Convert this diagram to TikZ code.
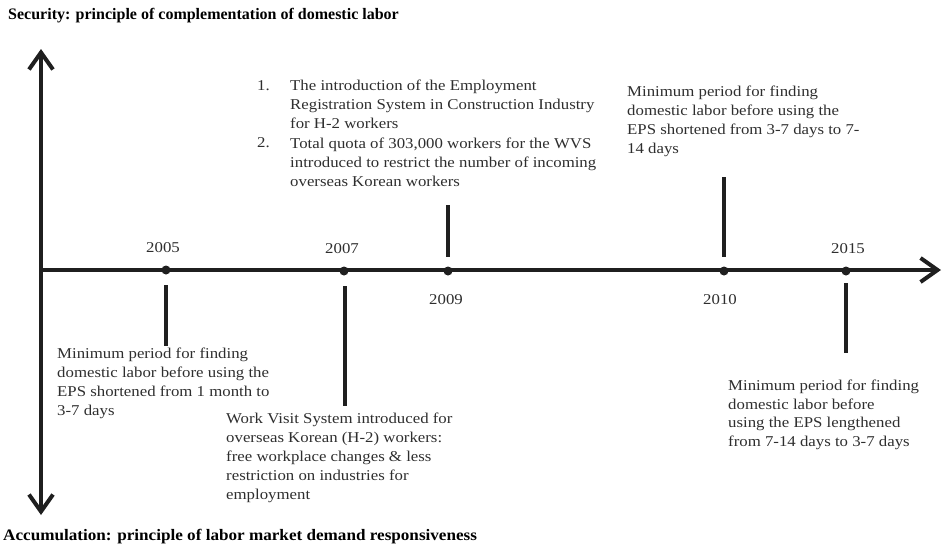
\documentclass[tikz,border=0pt]{standalone}
\usepackage{fontspec}
\setmainfont{Liberation Serif}[FakeStretch=1.12]
\newfontfamily\secfont{Liberation Serif}
\newfontfamily\accfont{Liberation Serif}[FakeStretch=1.07]
\usetikzlibrary{arrows.meta}

\definecolor{inkgray}{HTML}{2E2E2E}

\tikzset{
  axisline/.style={line width=4pt, draw=black!88},
  tick/.style={line width=4pt, draw=black!88},
  barb/.tip={Straight Barb[length=17pt, width=24pt, line width=4pt]},
  evdot/.style={circle, fill=black!88, inner sep=0pt, minimum size=9pt},
  yearlbl/.style={anchor=base, inner sep=0pt, text=inkgray, font=\fontsize{15}{18}\selectfont},
  note/.style={anchor=north west, inner sep=0pt, align=left, text=inkgray,
               font=\fontsize{15}{19}\selectfont},
  heading/.style={anchor=base west, inner sep=0pt, text=black},
}

\begin{document}
\begin{tikzpicture}[x=1pt, y=-1pt]
\useasboundingbox (0,0) rectangle (943,547);

% headings for the two principles
\node[heading, font=\secfont\fontsize{16}{19}\selectfont\bfseries] (sec) at (8,19)
  {Security: principle of complementation of domestic labor};
\node[heading, font=\accfont\fontsize{16}{19}\selectfont\bfseries] (acc) at (3,540)
  {Accumulation: principle of labor market demand responsiveness};

% axes
\coordinate (ytop) at (41,49);
\coordinate (ybot) at (41,515);
\coordinate (xorg) at (39,270);
\coordinate (xend) at (941,270);
\draw[axisline, {barb}-{barb}] (ybot) -- (ytop);
\draw[axisline, -{barb}] (xorg) -- (xend);

% events on the timeline
\node[evdot] (d05) at (166,270) {};
\node[evdot] (d07) at (344,271) {};
\node[evdot] (d09) at (448,271) {};
\node[evdot] (d10) at (724,271) {};
\node[evdot] (d15) at (846,271) {};

% year labels
\node[yearlbl] (y05) at (163,252) {2005};
\node[yearlbl] (y07) at (342,253.5) {2007};
\node[yearlbl] (y09) at (446,304) {2009};
\node[yearlbl] (y10) at (720,304) {2010};
\node[yearlbl] (y15) at (848,253.5) {2015};

% tick stems
\coordinate (s05a) at (166,285); \coordinate (s05b) at (166,346);
\coordinate (s07a) at (345,286); \coordinate (s07b) at (345,406);
\coordinate (s09a) at (448,205); \coordinate (s09b) at (448,257);
\coordinate (s10a) at (724,177); \coordinate (s10b) at (724,257);
\coordinate (s15a) at (846,283); \coordinate (s15b) at (846,353);
\draw[tick] (s05a) -- (s05b);
\draw[tick] (s07a) -- (s07b);
\draw[tick] (s09a) -- (s09b);
\draw[tick] (s10a) -- (s10b);
\draw[tick] (s15a) -- (s15b);

% event descriptions
\node[note] (n05) at (57,348) {Minimum period for finding\\domestic labor before using the\\EPS shortened from 1 month to\\3-7 days};
\node[note] (n07) at (226,413) {Work Visit System introduced for\\overseas Korean (H-2) workers:\\free workplace changes \& less\\restriction on industries for\\employment};
\node[note] (n09a) at (257,80) {1.};
\node[note] (n09) at (290,80) {The introduction of the Employment\\Registration System in Construction Industry\\for H-2 workers};
\node[note] (n09b) at (257,137.5) {2.};
\node[note] (n09c) at (290,137.5) {Total quota of 303,000 workers for the WVS\\introduced to restrict the number of incoming\\overseas Korean workers};
\node[note] (n10) at (627,86) {Minimum period for finding\\domestic labor before using the\\EPS shortened from 3-7 days to 7-\\14 days};
\node[note, font=\fontsize{15}{18.5}\selectfont] (n15) at (728,380) {Minimum period for finding\\domestic labor before\\using the EPS lengthened\\from 7-14 days to 3-7 days};
\end{tikzpicture}
\end{document}
